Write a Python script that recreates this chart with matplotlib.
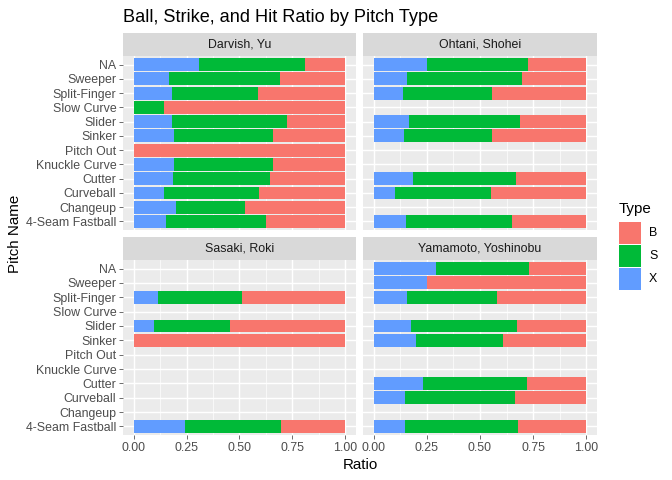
import numpy as np
import matplotlib
matplotlib.use("Agg")
import matplotlib.pyplot as plt
from matplotlib.patches import Rectangle

plt.rcParams['font.family'] = ['Liberation Sans', 'DejaVu Sans']

# pitch types, bottom to top as drawn
pitches = ["4-Seam Fastball", "Changeup", "Curveball", "Cutter", "Knuckle Curve",
           "Pitch Out", "Sinker", "Slider", "Slow Curve", "Split-Finger", "Sweeper", "NA"]

players = ["Darvish, Yu", "Ohtani, Shohei", "Sasaki, Roki", "Yamamoto, Yoshinobu"]

# cumulative ratios per pitch: (end of X, end of S); None = pitch not thrown
darvish_x = [0.151, 0.198, 0.142, 0.184, 0.189, 0.0, 0.189, 0.179, 0.0, 0.179, 0.165, 0.307]
darvish_s = [0.627, 0.524, 0.590, 0.646, 0.656, 0.0, 0.660, 0.722, 0.142, 0.585, 0.689, 0.807]

ohtani_x = [0.151, None, 0.099, 0.184, None, None, 0.142, 0.165, None, 0.137, 0.156, 0.250]
ohtani_s = [0.651, None, 0.552, 0.670, None, None, 0.557, 0.689, None, 0.557, 0.698, 0.726]

sasaki_x = [0.241, None, None, None, None, None, 0.0, 0.094, None, 0.113, None, None]
sasaki_s = [0.698, None, None, None, None, None, 0.0, 0.453, None, 0.514, None, None]

yamamoto_x = [0.146, None, 0.146, 0.231, None, None, 0.198, 0.175, None, 0.156, 0.250, 0.292]
yamamoto_s = [0.679, None, 0.665, 0.722, None, None, 0.608, 0.675, None, 0.580, 0.250, 0.731]

data = {
    "Darvish, Yu": (darvish_x, darvish_s),
    "Ohtani, Shohei": (ohtani_x, ohtani_s),
    "Sasaki, Roki": (sasaki_x, sasaki_s),
    "Yamamoto, Yoshinobu": (yamamoto_x, yamamoto_s),
}

col_b = "#F8766D"
col_s = "#00BA38"
col_x = "#619CFF"

W, H = 672, 480
fig = plt.figure(figsize=(W / 100, H / 100), dpi=100)
fig.patch.set_facecolor("white")


def box(x0, y0, x1, y1):
    # pixel box (top-left origin) -> figure fractions
    return [x0 / W, 1 - y1 / H, (x1 - x0) / W, (y1 - y0) / H]


cols = [(123, 356), (363, 597)]
rows = [(33, 56, 230), (237, 260, 435)]

tick_fs = 8.9
for i, name in enumerate(players):
    r, c = divmod(i, 2)
    x0, x1 = cols[c]
    s0, p0, p1 = rows[r]
    ax = fig.add_axes(box(x0, p0, x1, p1))
    ax.set_facecolor("#EBEBEB")
    ypos = np.arange(len(pitches))
    xs, ss = data[name]
    for y, xe, se in zip(ypos, xs, ss):
        if xe is None:
            continue
        ax.barh(y, xe, left=0, height=0.9, color=col_x, zorder=3)
        ax.barh(y, se - xe, left=xe, height=0.9, color=col_s, zorder=3)
        ax.barh(y, 1 - se, left=se, height=0.9, color=col_b, zorder=3)
    ax.set_xlim(-0.05, 1.05)
    ax.set_ylim(-0.6, len(pitches) - 0.4)
    ax.set_xticks([0, 0.25, 0.5, 0.75, 1.0])
    ax.set_xticks([0.125, 0.375, 0.625, 0.875], minor=True)
    ax.set_yticks(ypos)
    ax.grid(which="major", color="white", linewidth=1.05, zorder=1)
    ax.grid(which="minor", axis="x", color="white", linewidth=0.5, zorder=1)
    for sp in ax.spines.values():
        sp.set_visible(False)
    ax.tick_params(which="major", length=2.7, width=0.5, color="#333333",
                   labelsize=tick_fs, labelcolor="#4D4D4D", pad=2)
    ax.tick_params(which="minor", length=0)
    if c == 0:
        ax.set_yticklabels(pitches)
    else:
        ax.tick_params(axis="y", length=0, labelleft=False)
    if r == 1:
        ax.set_xticklabels(["0.00", "0.25", "0.50", "0.75", "1.00"])
    else:
        ax.tick_params(axis="x", length=0, labelbottom=False)

    st = fig.add_axes(box(x0, s0, x1, p0))
    st.set_facecolor("#D9D9D9")
    st.set_xticks([])
    st.set_yticks([])
    for sp in st.spines.values():
        sp.set_visible(False)
    st.text(0.5, 0.5, name, ha="center", va="center", fontsize=tick_fs,
            color="#1A1A1A", transform=st.transAxes)

fig.text(123 / W, 1 - 17 / H, "Ball, Strike, and Hit Ratio by Pitch Type",
         ha="left", va="center", fontsize=13.1, color="black")
fig.text(360 / W, 1 - 465 / H, "Ratio", ha="center", va="center", fontsize=10.9)
fig.text(15 / W, 1 - 234 / H, "Pitch Name", ha="center", va="center",
         rotation=90, fontsize=10.9)

# legend
fig.text(619 / W, 1 - 209 / H, "Type", ha="left", va="center", fontsize=10.9)
for k, (lab, colr) in enumerate([("B", col_b), ("S", col_s), ("X", col_x)]):
    top = 222 + k * 23
    fig.patches.append(Rectangle((619 / W, 1 - (top + 22) / H), 22 / W, 22 / H,
                                 transform=fig.transFigure, facecolor=colr,
                                 edgecolor="none"))
    fig.text(649 / W, 1 - (top + 11) / H, lab, ha="left", va="center", fontsize=tick_fs)

fig.savefig("out.png", dpi=100)
